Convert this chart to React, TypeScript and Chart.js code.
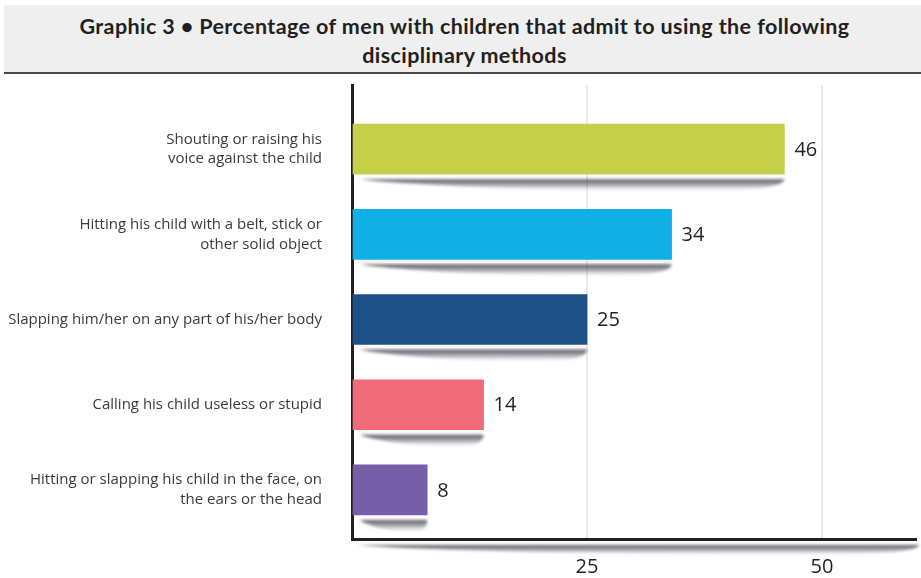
import React, { useEffect, useRef } from "react";
import { Chart, registerables } from "chart.js";

Chart.register(...registerables);

const categories: string[][] = [
  ["Shouting or raising his", "voice against the child"],
  ["Hitting his child with a belt, stick or", "other solid object"],
  ["Slapping him/her on any part of his/her body"],
  ["Calling his child useless or stupid"],
  ["Hitting or slapping his child in the face, on", "the ears or the head"],
];
const values: number[] = [46, 34, 25, 14, 8];
const barColors: string[] = ["#c5cf4a", "#10b0e6", "#1f5189", "#f26b7b", "#765ea8"];
const xTicks: number[] = [25, 50];
const titleLines: string[] = [
  "Graphic 3 • Percentage of men with children that admit to using the following",
  "disciplinary methods",
];

const shadowPlugin = {
  id: "barShadows",
  beforeDatasetsDraw(chart: any) {
    const ctx = chart.ctx;
    const meta = chart.getDatasetMeta(0);
    const area = chart.chartArea;
    const drawShadow = (x0: number, x1: number, y: number, depth: number) => {
      ctx.save();
      ctx.filter = "blur(1.5px)";
      const g = ctx.createLinearGradient(0, y, 0, y + depth);
      g.addColorStop(0, "rgba(45,42,55,0.8)");
      g.addColorStop(0.5, "rgba(70,70,80,0.4)");
      g.addColorStop(1, "rgba(255,255,255,0)");
      ctx.fillStyle = g;
      ctx.beginPath();
      ctx.moveTo(x0, y);
      ctx.lineTo(x1, y);
      ctx.quadraticCurveTo(x1, y + depth, (x0 + x1) / 2 + (x1 - x0) * 0.2, y + depth);
      ctx.quadraticCurveTo(x0 + (x1 - x0) * 0.15, y + depth * 0.6, x0, y);
      ctx.closePath();
      ctx.fill();
      ctx.restore();
    };
    meta.data.forEach((bar: any) => {
      const bottom = bar.y + bar.height / 2;
      drawShadow(area.left + 8, bar.x, bottom + 5, 13);
    });
    drawShadow(area.left + 5, area.right + 3, area.bottom + 6, 11);
  },
};

const valueLabelPlugin = {
  id: "valueLabels",
  afterDatasetsDraw(chart: any) {
    const ctx = chart.ctx;
    const meta = chart.getDatasetMeta(0);
    ctx.save();
    ctx.font = "20px 'Open Sans'";
    ctx.fillStyle = "#231f20";
    ctx.textAlign = "left";
    ctx.textBaseline = "middle";
    meta.data.forEach((bar: any, i: number) => {
      ctx.fillText(String(values[i]), bar.x + 10, bar.y + 1);
    });
    ctx.restore();
  },
};

export default function App() {
  const canvasRef = useRef<HTMLCanvasElement | null>(null);

  useEffect(() => {
    document.body.style.margin = "0";
    const canvas = canvasRef.current;
    if (!canvas) return;
    const chart = new Chart(canvas, {
      type: "bar",
      data: {
        datasets: [
          {
            data: values.map((v, i) => ({ x: v, y: i })),
            backgroundColor: barColors,
            borderWidth: 0,
            barThickness: 50,
          },
        ],
      },
      options: {
        indexAxis: "y",
        animation: false,
        responsive: false,
        maintainAspectRatio: false,
        layout: { padding: { top: 85, right: 5, left: 0, bottom: 0 } },
        plugins: { legend: { display: false }, tooltip: { enabled: false }, title: { display: false } },
        scales: {
          x: {
            type: "linear",
            min: 0,
            max: 60,
            afterBuildTicks: (scale: any) => {
              scale.ticks = [{ value: 0 }, ...xTicks.map((v) => ({ value: v }))];
            },
            afterFit: (scale: any) => {
              scale.height = 39;
            },
            ticks: {
              padding: 16,
              color: "#231f20",
              font: { family: "'Open Sans'", size: 20 },
              callback: (v: any) => (v === 0 ? "" : String(v)),
            },
            grid: {
              drawTicks: false,
              color: (c: any) => (c.tick && c.tick.value === 0 ? "rgba(0,0,0,0)" : "#e9e9e9"),
              lineWidth: 2,
            },
            border: { display: true, color: "#231f20", width: 3 },
          },
          y: {
            type: "linear",
            reverse: true,
            offset: false,
            min: -0.753,
            max: 4.576,
            afterBuildTicks: (scale: any) => {
              scale.ticks = values.map((_, i) => ({ value: i }));
            },
            afterFit: (scale: any) => {
              scale.width = 352;
              scale.paddingTop = 0;
              scale.paddingBottom = 0;
            },
            ticks: {
              autoSkip: false,
              padding: 30,
              color: "#3a3a3a",
              font: { family: "'Open Sans'", size: 15, lineHeight: 1.32 },
              callback: (v: any) => categories[v as number],
            },
            grid: { display: false, drawTicks: false },
            border: { display: true, color: "#231f20", width: 3 },
          },
        },
      },
      plugins: [shadowPlugin, valueLabelPlugin],
    });
    return () => chart.destroy();
  }, []);

  return (
    <div style={{ position: "relative", width: 921, height: 578, background: "#fff", overflow: "hidden" }}>
      <canvas ref={canvasRef} width={921} height={578} style={{ position: "absolute", left: 0, top: 0 }} />
      <div
        style={{
          position: "absolute",
          left: 4,
          top: 5,
          width: 917,
          height: 69,
          background: "#efefef",
          borderBottom: "2px solid #4a4a4a",
          boxSizing: "border-box",
          fontFamily: "Lato, 'Open Sans', sans-serif",
          fontWeight: 700,
          fontSize: 21.5,
          letterSpacing: "0.4px",
          lineHeight: "29px",
          color: "#231f20",
          textAlign: "center",
          paddingTop: 7,
          paddingLeft: 4,
        }}
      >
        {titleLines.map((t, i) => (
          <div key={i}>{t}</div>
        ))}
      </div>
    </div>
  );
}
